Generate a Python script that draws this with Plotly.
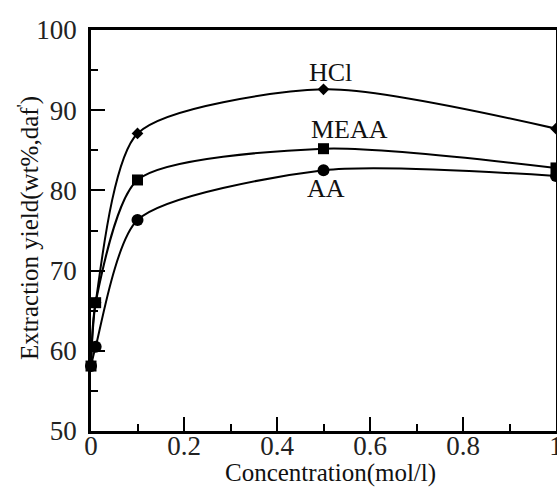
import plotly.graph_objects as go

conc = [0, 0.01, 0.1, 0.5, 1.0]
hcl = [58.1, 66.0, 87.1, 92.6, 87.7]
meaa = [58.1, 66.0, 81.3, 85.2, 82.8]
aa = [58.1, 60.5, 76.3, 82.5, 81.8]

x_ticks = [0, 0.2, 0.4, 0.6, 0.8, 1.0]
x_ticktext = ["0", "0.2", "0.4", "0.6", "0.8", "1"]
y_ticks = [50, 60, 70, 80, 90, 100]

labels = ["HCl", "MEAA", "AA"]
label_x = [0.515, 0.555, 0.505]
label_y = [94.7, 87.6, 80.2]

FONT = "Liberation Serif"

fig = go.Figure()
series = [(hcl, "diamond", 9), (meaa, "square", 11), (aa, "circle", 12)]
for (ys, sym, sz), name in zip(series, labels):
    fig.add_trace(go.Scatter(
        x=conc, y=ys, mode="lines+markers", name=name,
        line=dict(color="black", width=2, shape="spline", smoothing=0.7),
        marker=dict(symbol=sym, size=sz, color="black"),
        cliponaxis=False, showlegend=False,
    ))

for t, xx, yy in zip(labels, label_x, label_y):
    fig.add_annotation(x=xx, y=yy, text=t, showarrow=False,
                       font=dict(family=FONT, size=26, color="#111"))

# axis titles as paper-positioned annotations
fig.add_annotation(x=0.514, y=0, xref="paper", yref="paper", yshift=-42,
                   yanchor="middle", xanchor="center", showarrow=False,
                   text="Concentration(mol/l)",
                   font=dict(family=FONT, size=25, color="#111"))
fig.add_annotation(x=0, y=0.506, xref="paper", yref="paper", xshift=-63,
                   xanchor="center", yanchor="middle", textangle=-90, showarrow=False,
                   text="Extraction yield(wt%,daf<sup>'</sup>)",
                   font=dict(family=FONT, size=25, color="#111"))

axis_common = dict(
    showgrid=False, zeroline=False, showline=True, linecolor="black", linewidth=2.5,
    mirror=True, ticks="inside", ticklen=14, tickwidth=2, tickcolor="black",
    tickfont=dict(family=FONT, size=27, color="#222"), automargin=False,
    ticklabeloverflow="allow",
)

fig.update_xaxes(
    range=[0, 1], tickvals=x_ticks, ticktext=x_ticktext, ticklabelstandoff=-11,
    minor=dict(ticks="inside", ticklen=7, tickwidth=2, tickcolor="black", dtick=0.1),
    **axis_common,
)
fig.update_yaxes(
    range=[50, 100], tickvals=y_ticks, ticklabelstandoff=6,
    minor=dict(ticks="inside", ticklen=7, tickwidth=2, tickcolor="black", dtick=5),
    **axis_common,
)

fig.update_layout(
    width=557, height=491,
    margin=dict(l=91, r=1, t=30, b=60, autoexpand=False),
    paper_bgcolor="white", plot_bgcolor="white",
)

fig.write_html("out.html", config={"displayModeBar": False},
               post_script="document.body.style.margin='0';")
